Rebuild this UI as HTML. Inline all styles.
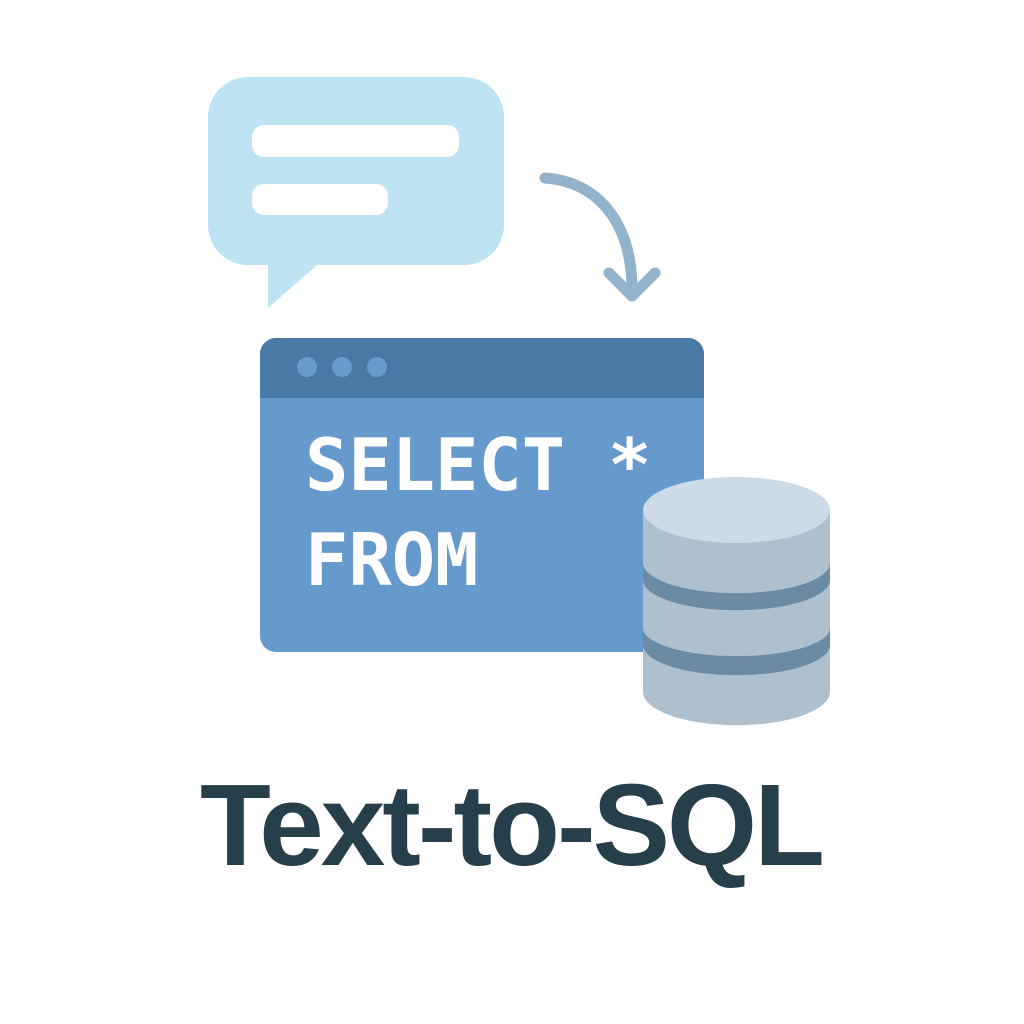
<!DOCTYPE html>
<html><head><meta charset="utf-8"><style>
html,body{margin:0;padding:0;background:#fff;width:1024px;height:1024px;overflow:hidden}
</style></head><body>
<svg width="1024" height="1024" viewBox="0 0 1024 1024" xmlns="http://www.w3.org/2000/svg">
<rect x="208" y="77" width="296" height="188" rx="40" fill="#bee3f2"/>
<path d="M268 250 L268 308 L325 258 Z" fill="#bee3f2"/>
<rect x="252" y="125" width="207" height="32" rx="12" fill="#fff"/>
<rect x="252" y="184" width="136" height="31" rx="12" fill="#fff"/>
<path d="M545 178 C600 182 632 225 632 290" fill="none" stroke="#93b3cc" stroke-width="11" stroke-linecap="round"/>
<path d="M609 273 L632 296 L655 273" fill="none" stroke="#93b3cc" stroke-width="11" stroke-linecap="round" stroke-linejoin="round"/>
<rect x="260" y="338" width="444" height="314" rx="16" fill="#6699cc"/>
<path d="M276 338 H688 A16 16 0 0 1 704 354 V398 H260 V354 A16 16 0 0 1 276 338 Z" fill="#4a79a5"/>
<circle cx="307" cy="367" r="10" fill="#6a9acb"/>
<circle cx="342" cy="367" r="10" fill="#6a9acb"/>
<circle cx="377" cy="367" r="10" fill="#6a9acb"/>
<text x="305" y="490" font-family="DejaVu Sans Mono, Liberation Mono, monospace" font-weight="bold" font-size="72" fill="#fff">SELECT</text>
<text x="608" y="490" font-family="DejaVu Sans Mono, Liberation Mono, monospace" font-weight="bold" font-size="72" fill="#fff">*</text>
<text x="305" y="585" font-family="DejaVu Sans Mono, Liberation Mono, monospace" font-weight="bold" font-size="72" fill="#fff">FROM</text>
<path d="M643 510 V692 A93 33 0 0 0 830 692 V510 Z" fill="#aebfce"/>
<path d="M643 563 A93 30 0 0 0 830 563 V580 A93 30 0 0 1 643 580 Z" fill="#6b8aa3"/>
<path d="M643 628 A93 28 0 0 0 830 628 V645 A93 30 0 0 1 643 645 Z" fill="#6b8aa3"/>
<ellipse cx="736.5" cy="510" rx="93.5" ry="33" fill="#cddbe6"/>
<text x="200" y="865" textLength="625" lengthAdjust="spacing" font-family="Liberation Sans, sans-serif" font-weight="bold" font-size="116" fill="#263f4a">Text-to-SQL</text>
</svg>
</body></html>
